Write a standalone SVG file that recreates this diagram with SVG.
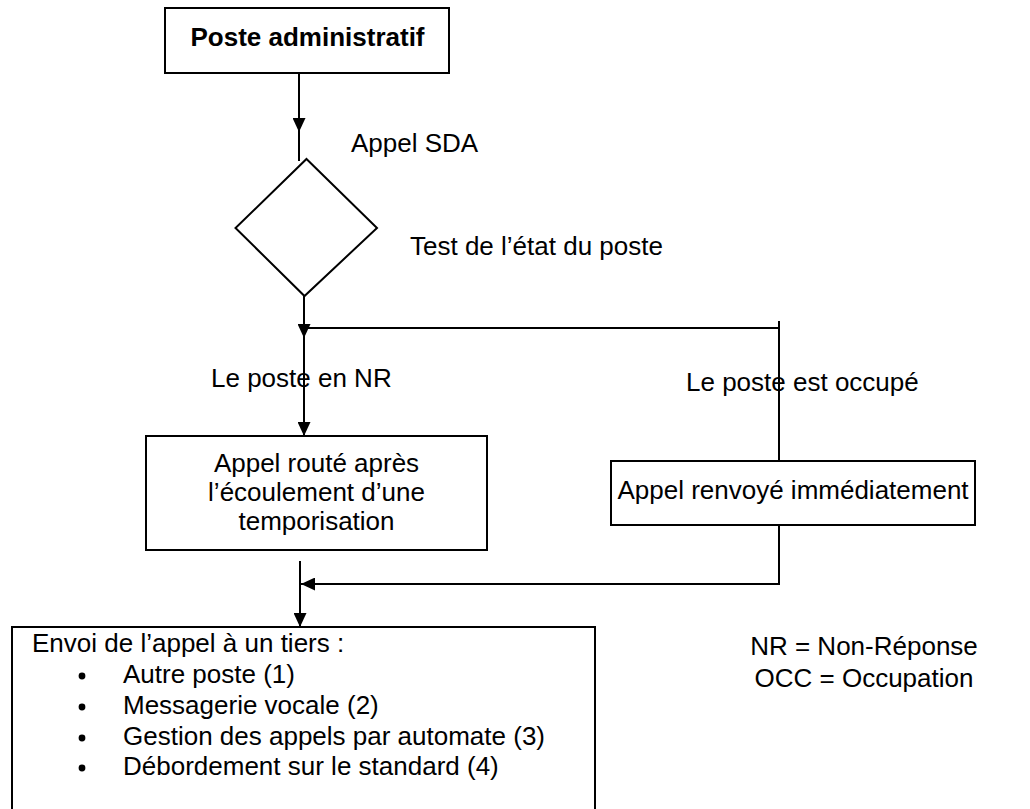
<svg xmlns="http://www.w3.org/2000/svg" width="1030" height="809" viewBox="0 0 1030 809">
<defs>
<marker id="ah" markerWidth="14" markerHeight="13" refX="14" refY="6.5" orient="auto" markerUnits="userSpaceOnUse" viewBox="0 0 14 13">
<path d="M0,0 L14,6.5 L0,13 Z" fill="#000"/>
</marker>
<style>
.box{fill:#fff;stroke:#000;stroke-width:2}
.ln{fill:none;stroke:#000;stroke-width:2}
text{font-family:"Liberation Sans",Arial,sans-serif;font-size:26px;fill:#000}
.b{font-weight:bold}
.c{text-anchor:middle}
</style>
</defs>
<rect width="1030" height="809" fill="#fff"/>
<g id="connectors">
<path class="ln" d="M299,73 V132" marker-end="url(#ah)"/>
<path class="ln" d="M299,132 V161"/>
<path class="ln" d="M304,296 V338" marker-end="url(#ah)"/>
<path class="ln" d="M304,338 V436" marker-end="url(#ah)"/>
<path class="ln" d="M304,328 H779 M779,321 V461"/>
<path class="ln" d="M779,525 V584 H301" marker-end="url(#ah)"/>
<path class="ln" d="M300,561 V627" marker-end="url(#ah)"/>
</g>
<g id="n_poste">
<rect class="box" x="165" y="8" width="284" height="65"/>
<text class="b c" x="307.5" y="46">Poste administratif</text>
</g>
<g id="l_sda"><text x="351" y="152">Appel SDA</text></g>
<g id="n_test">
<path class="box" d="M306.5,159 L377,228 L304.5,296 L235.5,228 Z"/>
<text x="410" y="255">Test de l’état du poste</text>
</g>
<g id="l_nr"><text x="211" y="387">Le poste en NR</text></g>
<g id="l_occ"><text x="686" y="391">Le poste est occupé</text></g>
<g id="n_route">
<rect class="box" x="146" y="436" width="341" height="114"/>
<text class="c" x="316.5" y="472">Appel routé après</text>
<text class="c" x="316.5" y="501">l’écoulement d’une</text>
<text class="c" x="316.5" y="530">temporisation</text>
</g>
<g id="n_renvoi">
<rect class="box" x="611" y="461" width="364" height="64"/>
<text class="c" x="793" y="499">Appel renvoyé immédiatement</text>
</g>
<g id="n_envoi">
<path class="box" d="M12,815 V627 H595 V815"/>
<text x="32" y="652">Envoi de l’appel à un tiers :</text>
<circle cx="82" cy="676" r="3.4"/>
<text x="123" y="683">Autre poste (1)</text>
<circle cx="82" cy="707" r="3.4"/>
<text x="123" y="714">Messagerie vocale (2)</text>
<circle cx="82" cy="738" r="3.4"/>
<text x="123" y="745">Gestion des appels par automate (3)</text>
<circle cx="82" cy="768" r="3.4"/>
<text x="123" y="775">Débordement sur le standard (4)</text>
</g>
<g id="legend">
<text class="c" x="864" y="655">NR = Non-Réponse</text>
<text class="c" x="864" y="687">OCC = Occupation</text>
</g>
</svg>
